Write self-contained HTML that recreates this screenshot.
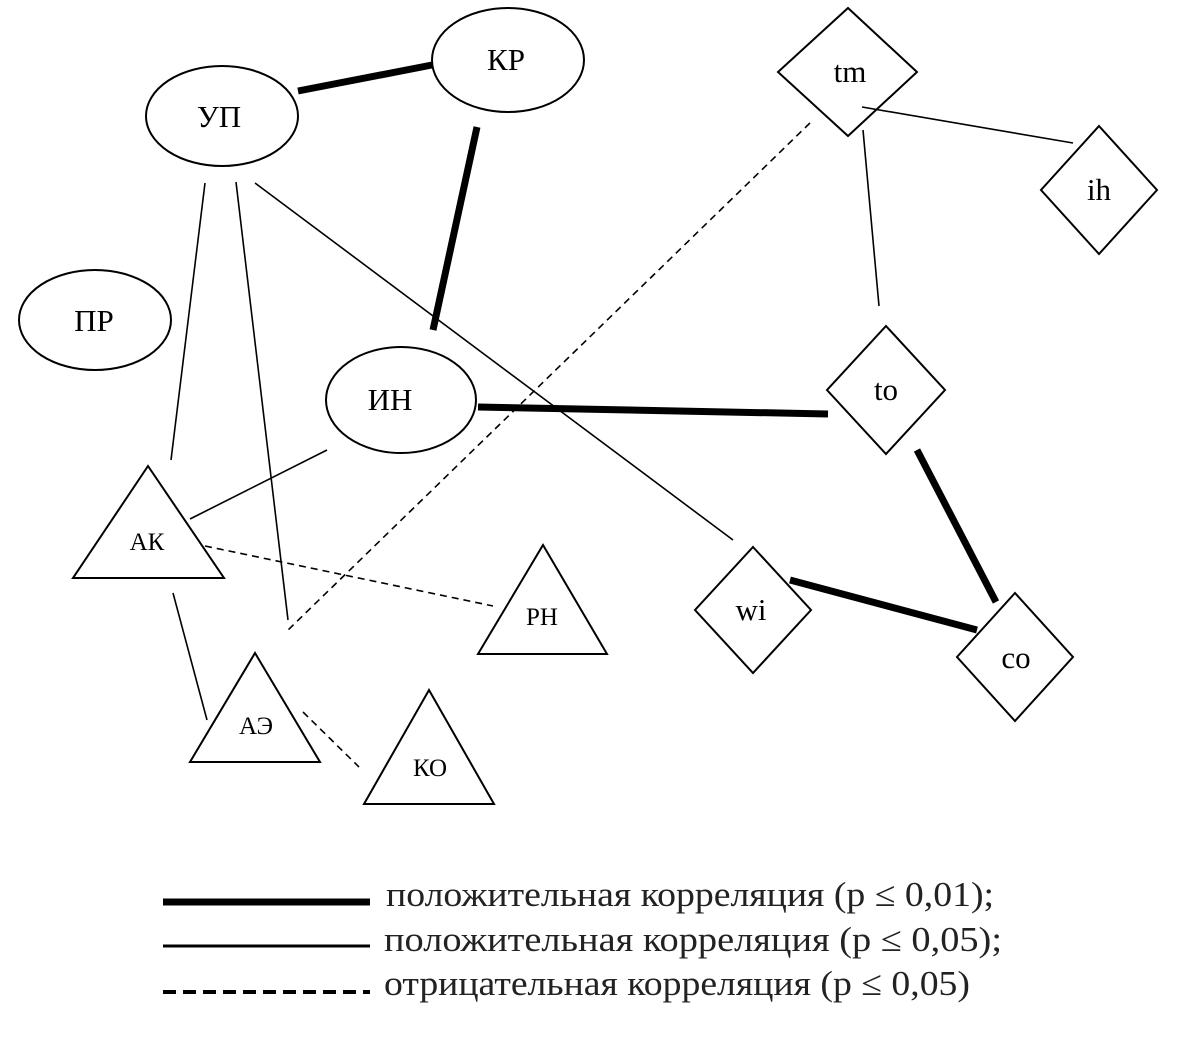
<!DOCTYPE html>
<html><head><meta charset="utf-8"><style>html,body{margin:0;padding:0;background:#fff}</style></head>
<body>
<svg width="1178" height="1044" viewBox="0 0 1178 1044" xmlns="http://www.w3.org/2000/svg" font-family="Liberation Serif, serif">
<g fill="none" stroke="#000" stroke-width="2">
<ellipse cx="222" cy="116" rx="76" ry="50"/>
<ellipse cx="508" cy="60" rx="76" ry="52"/>
<ellipse cx="95" cy="320" rx="76" ry="50"/>
<ellipse cx="401" cy="400" rx="75" ry="53"/>
<polygon points="848,8 917,72 848,136 778,72"/>
<polygon points="1099,126 1157,190 1099,254 1041,190"/>
<polygon points="886,326 945,390 886,454 827,390"/>
<polygon points="753,547 811,610 753,673 695,610"/>
<polygon points="1015,593 1073,657 1015,721 957,657"/>
<polygon points="148,466 224,578 73,578"/>
<polygon points="543,545 607,654 478,654"/>
<polygon points="255,653 320,762 190,762"/>
<polygon points="429,690 494,804 364,804"/>
</g>
<g stroke="#000" stroke-width="7" stroke-linecap="butt">
<line x1="298" y1="91" x2="432" y2="65"/>
<line x1="477" y1="127" x2="433" y2="330"/>
<line x1="478" y1="407" x2="828" y2="414"/>
<line x1="917" y1="450" x2="996" y2="602"/>
<line x1="790" y1="580" x2="977" y2="630"/>
<line x1="163" y1="902" x2="370" y2="902"/>
</g>
<g stroke="#000" stroke-width="1.6">
<line x1="205" y1="183" x2="171" y2="460"/>
<line x1="236" y1="182" x2="288" y2="620"/>
<line x1="255" y1="183" x2="733" y2="540"/>
<line x1="327" y1="450" x2="190" y2="519"/>
<line x1="173" y1="593" x2="207" y2="720"/>
<line x1="862" y1="107" x2="1073" y2="143"/>
<line x1="863" y1="130" x2="879" y2="306"/>
<line x1="163" y1="946" x2="370" y2="946" stroke-width="3"/>
</g>
<g stroke="#000" stroke-width="1.6" stroke-dasharray="7,5">
<line x1="810" y1="123" x2="286" y2="632"/>
<line x1="205" y1="546" x2="493" y2="606"/>
<line x1="303" y1="712" x2="359" y2="767"/>
<line x1="163" y1="992" x2="370" y2="992" stroke-width="4" stroke-dasharray="13,7"/>
</g>
<g font-size="31" text-anchor="middle" fill="#000">
<text x="219" y="127">УП</text>
<text x="506" y="70">КР</text>
<text x="94" y="331">ПР</text>
<text x="390" y="410">ИН</text>
<text x="850" y="82">tm</text>
<text x="1099" y="200">ih</text>
<text x="886" y="400">to</text>
<text x="751" y="620">wi</text>
<text x="1016" y="668">co</text>
</g>
<g font-size="25" text-anchor="middle" fill="#000">
<text x="147" y="550">АК</text>
<text x="542" y="625">РН</text>
<text x="256" y="734">АЭ</text>
<text x="430" y="776">КО</text>
</g>
<g font-size="35" fill="#222">
<text x="386" y="906" textLength="608" lengthAdjust="spacingAndGlyphs">положительная корреляция (р ≤ 0,01);</text>
<text x="384" y="951" textLength="618" lengthAdjust="spacingAndGlyphs">положительная корреляция (р ≤ 0,05);</text>
<text x="384" y="995" textLength="586" lengthAdjust="spacingAndGlyphs">отрицательная корреляция (р ≤ 0,05)</text>
</g>
</svg>
</body></html>
